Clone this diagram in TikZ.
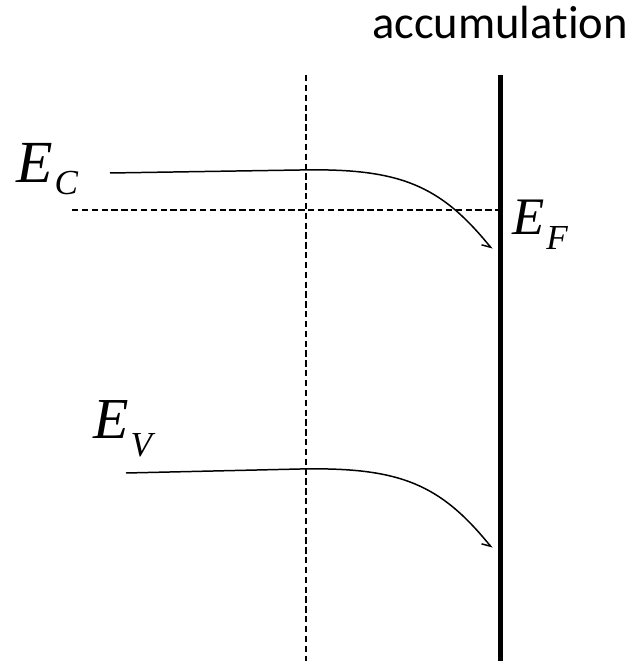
\documentclass[tikz,border=0pt]{standalone}
\usepackage{fontspec}
\setmainfont{Liberation Serif}
\newfontfamily\labelsans[Ligatures={NoCommon,NoRequired,NoContextual}]{Carlito}
\usetikzlibrary{arrows.meta}
% level label: E with an italic subscript
\newcommand{\lvl}[4]{{\fontsize{#4}{#4}\selectfont\itshape E}\kern#3\raisebox{-#2}{\fontsize{20}{20}\selectfont\itshape #1}}

\begin{document}
\begin{tikzpicture}[x=0.02cm, y=-0.02cm,
  band/.style={line width=0.85pt, -{Straight Barb[right, length=1.5mm, width=2.2mm]}},
  guide/.style={line width=0.6pt, dash pattern=on 3.6pt off 2pt},
  lbl/.style={anchor=base west, inner sep=0pt},
]
\useasboundingbox (0,0) rectangle (642,661);
% -- surface and guides
\node[font=\labelsans\fontsize{26.5}{26.5}\selectfont, anchor=base] (acc) at (500,39) {accumulation};
\coordinate (stop) at (500.5,75);
\coordinate (sbot) at (500.5,661);
\draw[line width=2.8pt] (stop) -- (sbot);
\coordinate (mtop) at (306,75);
\coordinate (mbot) at (306,661);
\draw[guide] (mtop) -- (mbot);
\coordinate (efl) at (72,210);
\coordinate (efr) at (498,210);
\draw[guide] (efl) -- (efr);
% -- labels
\node[lbl] (ec) at (16,183) {\lvl{C}{6.8pt}{1pt}{34}};
\node[lbl] (ef) at (512,235) {\lvl{F}{8.5pt}{1pt}{30}};
\node[lbl] (ev) at (93,438) {\lvl{V}{10.8pt}{1pt}{33}};
% -- bands
\coordinate (ecl) at (110,173);
\coordinate (ecm) at (300,170);
\coordinate (ecr) at (492,249);
\draw[band] (ecl) -- (ecm) .. controls +(100,-2) and +(-52,-64) .. (ecr);
\coordinate (evl) at (126,473);
\coordinate (evm) at (300,469);
\coordinate (evr) at (492,548);
\draw[band] (evl) -- (evm) .. controls +(100,-2) and +(-52,-64) .. (evr);
\end{tikzpicture}
\end{document}
